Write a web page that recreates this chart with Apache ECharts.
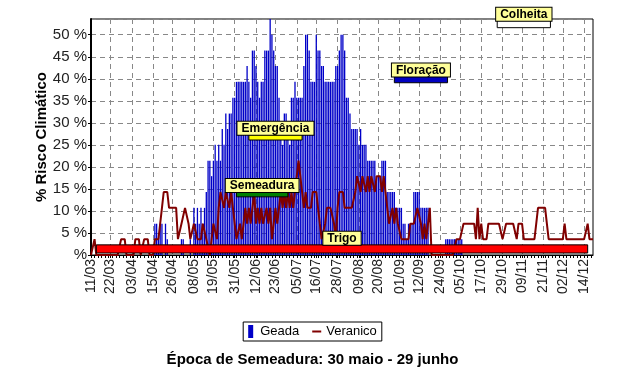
<!DOCTYPE html>
<html><head><meta charset="utf-8">
<script src="https://cdn.jsdelivr.net/npm/echarts@6/dist/echarts.min.js"></script>
<style>html,body{margin:0;padding:0;background:#fff;}#c{width:625px;height:389px;}</style>
</head><body><div id="c"></div>
<script>
// ---- data ----
const firstDay = '11/03';
const nDays = 284;
const tickLabels = ['11/03','22/03','03/04','15/04','26/04','08/05','19/05','31/05','12/06','23/06','05/07','16/07','28/07','09/08','20/08','01/09','12/09','24/09','05/10','17/10','29/10','09/11','21/11','02/12','14/12'];
const geada = [
0,0,0,0,0,0,0,0,0,0,
0,0,0,0,0,0,0,0,0,0,
0,0,0,0,0,0,0,0,0,0,
0,0,0,0,0,0,7.1,7.1,3.6,7.1,
7.1,0,7.1,3.6,0,0,0,0,0,0,
0,3.6,3.6,0,0,0,3.6,0,10.7,7.1,
10.7,7.1,10.7,7.1,10.7,14.3,21.4,21.4,17.9,21.4,
25,21.4,25,21.4,28.6,25,32.1,28.6,32.1,32.1,
35.7,35.7,39.3,39.3,39.3,39.3,39.3,39.3,42.9,39.3,
35.7,46.4,46.4,42.9,39.3,35.7,39.3,39.3,46.4,46.4,
46.4,53.6,50,46.4,42.9,42.9,35.7,28.6,25,32.1,
32.1,28.6,25,35.7,35.7,39.3,35.7,35.7,35.7,35.7,
42.9,50,50,46.4,39.3,39.3,39.3,50,46.4,46.4,
42.9,42.9,39.3,39.3,39.3,39.3,39.3,39.3,42.9,42.9,
46.4,50,50,46.4,35.7,35.7,32.1,28.6,28.6,28.6,
28.6,25,28.6,25,25,25,21.4,21.4,21.4,21.4,
21.4,17.9,17.9,17.9,21.4,21.4,21.4,14.3,14.3,14.3,
14.3,14.3,10.7,10.7,10.7,10.7,7.1,7.1,3.6,7.1,
7.1,7.1,14.3,14.3,14.3,14.3,10.7,10.7,10.7,10.7,
10.7,0,0,0,0,0,0,0,0,0,
3.6,3.6,3.6,3.6,3.6,3.6,3.6,3.6,3.6,3.6,
0,0,0,0,0,0,0,0,0,0,
0,0,0,0,0,0,0,0,0,0,
0,0,0,0,0,0,0,0,0,0,
0,0,0,0,0,0,0,0,0,0,
0,0,0,0,0,0,0,0,0,0,
0,0,0,0,0,0,0,0,0,0,
0,0,0,0,0,0,0,0,0,0,
0,0,0,0];
const veranico = [
0,0,3.6,0,0,0,0,0,0,0,
0,0,0,0,0,0,0,3.6,3.6,3.6,
0,0,0,0,0,3.6,3.6,3.6,0,0,
3.6,3.6,3.6,0,0,0,3.6,3.6,3.6,7.1,
10.7,14.3,14.3,14.3,10.7,10.7,10.7,10.7,10.7,3.6,
3.6,7.1,7.1,10.7,10.7,7.1,3.6,3.6,7.1,7.1,
3.6,3.6,3.6,7.1,7.1,3.6,3.6,0,0,7.1,
7.1,3.6,10.7,14.3,14.3,10.7,14.3,14.3,10.7,14.3,
10.7,10.7,3.6,3.6,7.1,3.6,7.1,10.7,7.1,10.7,
7.1,10.7,14.3,7.1,10.7,7.1,10.7,7.1,7.1,10.7,
7.1,10.7,3.6,7.1,10.7,7.1,10.7,14.3,10.7,14.3,
10.7,14.3,10.7,14.3,10.7,14.3,17.9,21.4,17.9,14.3,
10.7,14.3,10.7,10.7,10.7,14.3,14.3,14.3,10.7,7.1,
3.6,3.6,7.1,10.7,10.7,10.7,10.7,7.1,3.6,10.7,
14.3,14.3,14.3,10.7,10.7,10.7,10.7,10.7,10.7,14.3,
17.9,17.9,14.3,17.9,17.9,14.3,17.9,14.3,17.9,17.9,
14.3,17.9,17.9,17.9,14.3,17.9,14.3,10.7,7.1,7.1,
10.7,7.1,10.7,7.1,7.1,3.6,3.6,3.6,3.6,3.6,
7.1,7.1,7.1,7.1,10.7,10.7,7.1,3.6,7.1,3.6,
7.1,10.7,0,0,0,0,0,0,0,0,
0,0,0,0,0,0,3.6,3.6,3.6,3.6,
7.1,7.1,7.1,7.1,7.1,7.1,7.1,3.6,10.7,3.6,
7.1,3.6,3.6,3.6,7.1,7.1,7.1,7.1,7.1,7.1,
7.1,7.1,3.6,3.6,7.1,7.1,7.1,7.1,7.1,7.1,
3.6,7.1,7.1,7.1,3.6,3.6,3.6,3.6,3.6,3.6,
3.6,7.1,10.7,10.7,10.7,10.7,10.7,7.1,3.6,3.6,
3.6,3.6,3.6,3.6,3.6,3.6,3.6,7.1,3.6,3.6,
3.6,3.6,3.6,3.6,3.6,3.6,3.6,3.6,3.6,3.6,
7.1,3.6,3.6,3.6];
const phaseNames = ['Trigo','Semeadura','Emergência','Floração','Colheita'];
const phaseStart = ['14/03','01/06','08/06','29/08','26/10'];
const phaseEnd   = ['16/12','30/06','08/07','28/09','25/11'];

// ---- styles / layout ----
const phaseColor = ['#ff0000','#008000','#ffff00','#0000c0','#ffffff'];
const phaseLo = [0.45, 13.2, 26.1, 39.1, 51.6];
const phaseHi = [2.3, 14.3, 27.3, 40.5, 53.2];
const FONT = 'Liberation Sans, Arial, sans-serif';

// build daily categories
const mLen = [31,28,31,30,31,30,31,31,30,31,30,31];
const categories = [];
(function(){
  let d = parseInt(firstDay.slice(0,2)), m = parseInt(firstDay.slice(3,5));
  for (let i=0;i<nDays;i++){
    categories.push(String(d).padStart(2,'0')+'/'+String(m).padStart(2,'0'));
    d++; if (d>mLen[m-1]) { d=1; m++; }
  }
})();
const isTick = (i) => tickLabels.indexOf(categories[i]) >= 0;

const chart = echarts.init(document.getElementById('c'), null, {renderer:'canvas'});
chart.setOption({
  animation:false,
  backgroundColor:'#fff',
  textStyle:{fontFamily:FONT},
  grid:{left:91,right:32,top:19,bottom:134,show:true,borderColor:'#000',borderWidth:1,backgroundColor:'transparent'},
  title:{text:'Época de Semeadura: 30 maio - 29 junho',left:'center',top:347,
    textStyle:{fontFamily:FONT,fontSize:15,fontWeight:'bold',color:'#000'}},
  legend:{top:322,left:'center',data:[{name:'Geada',icon:'path://M0,0H5V13H0Z'},{name:'Veranico',icon:'path://M0,0H9V2H0Z'}],
    itemWidth:9,itemHeight:13,itemGap:13,padding:[3,5],borderColor:'#000',borderWidth:1,backgroundColor:'#fff',
    textStyle:{fontFamily:FONT,fontSize:13,color:'#000'}},
  xAxis:{type:'category',data:categories,boundaryGap:false,
    axisLine:{lineStyle:{color:'#000',width:1}},
    axisTick:{show:true,length:3,lineStyle:{color:'#000'},interval:(i)=> i%2===0 || isTick(i)},
    axisLabel:{interval:(i)=>isTick(i),rotate:90,margin:4,fontFamily:FONT,fontSize:14,color:'#222'},
    splitLine:{show:true,interval:(i)=>isTick(i),lineStyle:{color:'#888',type:[5,4],width:1}}},
  yAxis:{type:'value',min:0,max:53.57,interval:5,
    name:'% Risco Climático',nameLocation:'middle',nameGap:42,nameRotate:90,nameMoveOverlap:false,
    nameTextStyle:{fontFamily:FONT,fontSize:15,fontWeight:'bold',color:'#000'},
    axisLine:{show:true,lineStyle:{color:'#000',width:2}},
    axisTick:{show:true,length:3,lineStyle:{color:'#000'}},
    axisLabel:{showMaxLabel:false,margin:4,fontFamily:FONT,fontSize:15,color:'#222',
      formatter:(v)=> v===0 ? '%' : v+' %'},
    splitLine:{show:true,lineStyle:{color:'#888',type:[5,4],width:1}}},
  series:[
    {name:'Geada',type:'bar',data:geada,barWidth:1.3,itemStyle:{color:'#0000c8'},z:2},
    {name:'Veranico',type:'line',data:veranico,showSymbol:false,symbol:'none',
      lineStyle:{color:'#800000',width:2},itemStyle:{color:'#800000'},z:3},
    {name:'fases',type:'custom',z:5,clip:false,data:phaseNames.map((n,i)=>[i]),
      renderItem:function(params,api){
        const i = api.value(0);
        const s = api.coord([categories.indexOf(phaseStart[i]), phaseLo[i]]);
        const e = api.coord([categories.indexOf(phaseEnd[i]), phaseHi[i]]);
        const cx = (s[0]+e[0])/2;
        return {type:'group',children:[
          {type:'rect',shape:{x:s[0],y:e[1],width:e[0]-s[0],height:s[1]-e[1]},
            style:{fill:phaseColor[i],stroke:'#000',lineWidth:1}},
          {type:'text',x:cx,y:e[1],style:{text:phaseNames[i],align:'center',verticalAlign:'bottom',
            font:'bold 12px '+FONT,fill:'#000',backgroundColor:'#ffff99',borderColor:'#000',borderWidth:1,
            padding:[1,4,0,4]}}
        ]};
      }}
  ]
});
</script></body></html>
